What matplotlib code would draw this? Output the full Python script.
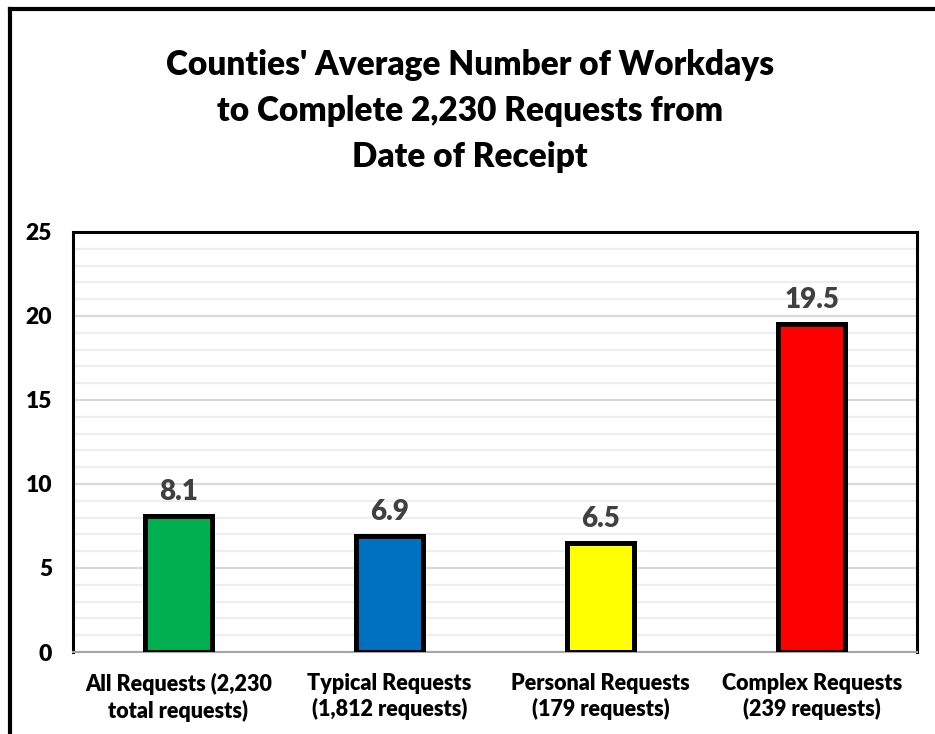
import matplotlib
matplotlib.use("Agg")
import matplotlib.pyplot as plt
from matplotlib.lines import Line2D
from matplotlib.ticker import MultipleLocator

categories = ["All Requests (2,230\ntotal requests)", "Typical Requests\n(1,812 requests)",
              "Personal Requests\n(179 requests)", "Complex Requests\n(239 requests)"]
values = [8.1, 6.9, 6.5, 19.5]
colors = ["#00B050", "#0070C0", "#FFFF00", "#FF0000"]
title = "Counties' Average Number of Workdays\nto Complete 2,230 Requests from\nDate of Receipt"

plt.rcParams['font.family'] = ['Lato', 'DejaVu Sans']
W = "heavy"

fig = plt.figure(figsize=(9.35, 7.34), dpi=100)
ax = fig.add_axes([0.078, 0.1117, 0.903, 0.5723])

x = range(len(values))
ax.bar(x, values, width=0.32, color=colors, edgecolor="black", linewidth=3.6, zorder=3)
for i, v in enumerate(values):
    ax.annotate(f"{v}", (i, v), xytext=(0, 8), textcoords="offset points",
                ha="center", va="bottom", fontsize=20, fontweight=W, color="#404040")

ax.set_xlim(-0.5, 3.5)
ax.set_ylim(0, 25)
ax.yaxis.set_major_locator(MultipleLocator(5))
ax.yaxis.set_minor_locator(MultipleLocator(1))
ax.grid(which="major", axis="y", color="#D9D9D9", linewidth=1.6, zorder=0)
ax.grid(which="minor", axis="y", color="#EEEEEE", linewidth=1.6, zorder=0)
ax.set_xticks(list(x))
ax.set_xticklabels(categories, fontsize=15.5, fontweight=W, linespacing=1.25)
for lab in ax.get_yticklabels():
    lab.set_fontweight(W)
ax.tick_params(axis="y", which="both", length=0, pad=15, labelsize=16.5)
ax.tick_params(axis="x", length=0, pad=15)

for side in ["left", "top", "right"]:
    ax.spines[side].set_linewidth(2.2)
    ax.spines[side].set_color("black")
ax.spines["bottom"].set_color("#A6A6A6")
ax.spines["bottom"].set_linewidth(1.5)

fig.text(0.503, 0.849, title, ha="center", va="center", fontsize=24,
         fontweight=W, linespacing=1.53)

# outer frame (left and top edges)
fig.add_artist(Line2D([0.0107, 0.0107], [0, 0.9877], transform=fig.transFigure, color="black", linewidth=3))
fig.add_artist(Line2D([0.0107, 1.0], [0.9877, 0.9877], transform=fig.transFigure, color="black", linewidth=3))

fig.savefig("out.png", dpi=100)
